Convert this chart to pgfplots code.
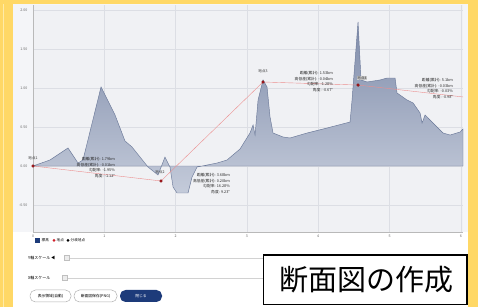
\documentclass[border=0pt]{standalone}
\usepackage{pgfplots}
\pgfplotsset{compat=1.18}
\usepackage{fontspec}
\setmainfont{Noto Sans CJK JP}
\definecolor{yframe}{HTML}{FFD866}
\definecolor{ylight}{HTML}{FFEBA8}
\definecolor{panel}{HTML}{F4F5F8}
\definecolor{plotbg}{HTML}{F0F1F4}
\definecolor{gridc}{HTML}{DCDEE4}
\definecolor{areatop}{HTML}{7F8CAA}
\definecolor{areabot}{HTML}{C4CBDA}
\definecolor{areal}{HTML}{6A7898}
\definecolor{redl}{HTML}{EC8E8E}
\definecolor{redm}{HTML}{D0202A}
\definecolor{navy}{HTML}{1D3B7A}
\begin{document}
\begin{tikzpicture}[x=1pt,y=1pt]
\useasboundingbox (0,0) rectangle (478,307);
\fill[white] (0,0) rectangle (478,307);
\fill[panel] (13,75) rectangle (468,303);
\begin{axis}[
  at={(33pt,75pt)}, anchor=south west, scale only axis,
  width=430pt, height=227pt,
  xmin=0, xmax=6.03, ymin=-0.846, ymax=2.064,
  axis background/.style={fill=plotbg},
  axis x line*=bottom, axis y line*=left,
  axis line style={gray!55, line width=0.4pt},
  grid=major, major grid style={gridc, line width=0.35pt},
  xtick={0,1,2,3,4,5,6}, ytick={-0.5,0,0.5,1,1.5,2},
  major tick length=0pt,
  tick label style={font=\fontsize{3.6}{4}\selectfont, text=gray!80!black},
  /pgf/number format/assume math mode=true,
  yticklabel style={/pgf/number format/fixed, /pgf/number format/fixed zerofill, /pgf/number format/precision=2, xshift=-2pt},
  xticklabel style={yshift=1pt},
  clip=true,
]
\addplot[top color=areatop, bottom color=areabot, draw=areal, line width=0.45pt] table {
x y
0 0
0.238 0.077
0.491 0.231
0.631 0.038
0.701 0.077
0.954 1.013
1.150 0.654
1.290 0.321
1.388 0.244
1.613 -0.013
1.753 -0.115
1.851 0.115
1.921 -0.013
1.964 -0.269
2.020 -0.346
2.174 -0.346
2.230 -0.141
2.300 -0.013
2.581 0.038
2.721 0.077
2.903 0.218
3.043 0.423
3.086 0.526
3.114 0.397
3.156 0.846
3.226 1.103
3.282 1.013
3.324 0.628
3.366 0.423
3.506 0.372
3.604 0.359
3.843 0.423
4.123 0.487
4.446 0.564
4.474 0.846
4.558 1.846
4.600 1.103
4.684 1.077
4.867 1.103
4.965 1.128
5.077 1.128
5.105 0.936
5.245 0.846
5.330 0.808
5.428 0.679
5.456 0.551
5.498 0.654
5.610 0.551
5.750 0.423
5.849 0.397
5.989 0.436
6.030 0.474
} \closedcycle;
\addplot[redl, line width=0.4pt, mark=none] table {
x y
0 0
1.795 -0.192
3.226 1.077
4.558 1.038
6.030 0.885
};
\addplot[only marks, mark=*, mark size=1.4pt, draw=red!40!black, fill=redm] table {
x y
0 0
1.795 -0.192
3.226 1.077
4.558 1.038
};
\addplot[only marks, mark=triangle*, mark size=1.7pt, rotate=180, fill=black!80, draw=black] table {
x y
0.631 -0.02
};
\end{axis}
% point labels
\begin{scope}[every node/.style={font=\fontsize{3.6}{4}\selectfont, text=black!80, inner sep=0.5pt}]
\node at (33,149) {地点1};
\node at (160,135) {地点2};
\node at (263,236) {地点3};
\node[fill=gray!40] at (362,229) {地点4};
\end{scope}
% annotation blocks
\begin{scope}[every node/.style={font=\fontsize{3.8}{5.8}\selectfont, align=right, anchor=east, text=black!85, inner sep=0pt}]
\node at (115,139.5) {距離(累計): 1.79km\\高低差(累計): -0.01km\\勾配率: -1.95\%\\角度: -1.12°};
\node at (230,123.5) {距離(累計): 3.68km\\高低差(累計): 0.20km\\勾配率: 16.28\%\\角度: 9.23°};
\node at (333,225.5) {距離(累計): 1.53km\\高低差(累計): -0.04km\\勾配率: -1.28\%\\角度: -0.67°};
\node at (453,218.5) {距離(累計): 5.1km\\高低差(累計): -0.03km\\勾配率: -0.03\%\\角度: -0.98°};
\end{scope}
% legend
\fill[navy] (35,64) rectangle (40,69);
\node[font=\fontsize{3.6}{4}\selectfont, anchor=west, inner sep=0pt] at (41.5,66.5) {標高};
\fill[redm] (54,66.5) circle (1.5);
\node[font=\fontsize{3.6}{4}\selectfont, anchor=west, inner sep=0pt] at (56.5,66.5) {地点};
\fill[black] (68,66.5) circle (1.5);
\node[font=\fontsize{3.6}{4}\selectfont, anchor=west, inner sep=0pt] at (70.5,66.5) {分岐地点};
% sliders
\node[font=\fontsize{4}{5}\selectfont, anchor=west, inner sep=0pt] at (28,49) {Y軸スケール ◀};
\draw[gray!35, line width=0.4pt] (70,49) -- (263,49);
\fill[gray!15] (64.5,46.5) rectangle (69,51.5);
\draw[gray!50, line width=0.3pt] (64.5,46.5) rectangle (69,51.5);
\node[font=\fontsize{4}{5}\selectfont, anchor=west, inner sep=0pt] at (28,29) {X軸スケール};
\draw[gray!35, line width=0.4pt] (68,29) -- (263,29);
\fill[gray!15] (62.5,26.5) rectangle (67,31.5);
\draw[gray!50, line width=0.3pt] (62.5,26.5) rectangle (67,31.5);
% buttons
\draw[gray!60, fill=white, rounded corners=5.5pt, line width=0.5pt] (30,5) rectangle (71,17);
\node[font=\fontsize{3.8}{4}\selectfont] at (50.5,11) {表示領域(自動)};
\draw[gray!60, fill=white, rounded corners=5.5pt, line width=0.5pt] (74,5) rectangle (117,17);
\node[font=\fontsize{3.8}{4}\selectfont] at (95.5,11) {断面図保存(PNG)};
\fill[navy, rounded corners=5.5pt] (120,5) rectangle (162,17);
\node[font=\fontsize{3.8}{4}\selectfont, text=white] at (141,11) {閉じる};
% yellow frame
\fill[yframe] (0,0) rectangle (13,307);
\draw[ylight, line width=1.2pt] (3.5,0) -- (3.5,307);
\fill[yframe] (0,303) rectangle (478,307);
\fill[yframe] (468,0) rectangle (478,307);
% title box
\draw[black, fill=white, line width=1.6pt] (263.5,2.5) rectangle (467,52);
\node[font=\fontsize{29}{32}\selectfont, inner sep=0pt] at (366,27) {断面図の作成};
\end{tikzpicture}
\end{document}
